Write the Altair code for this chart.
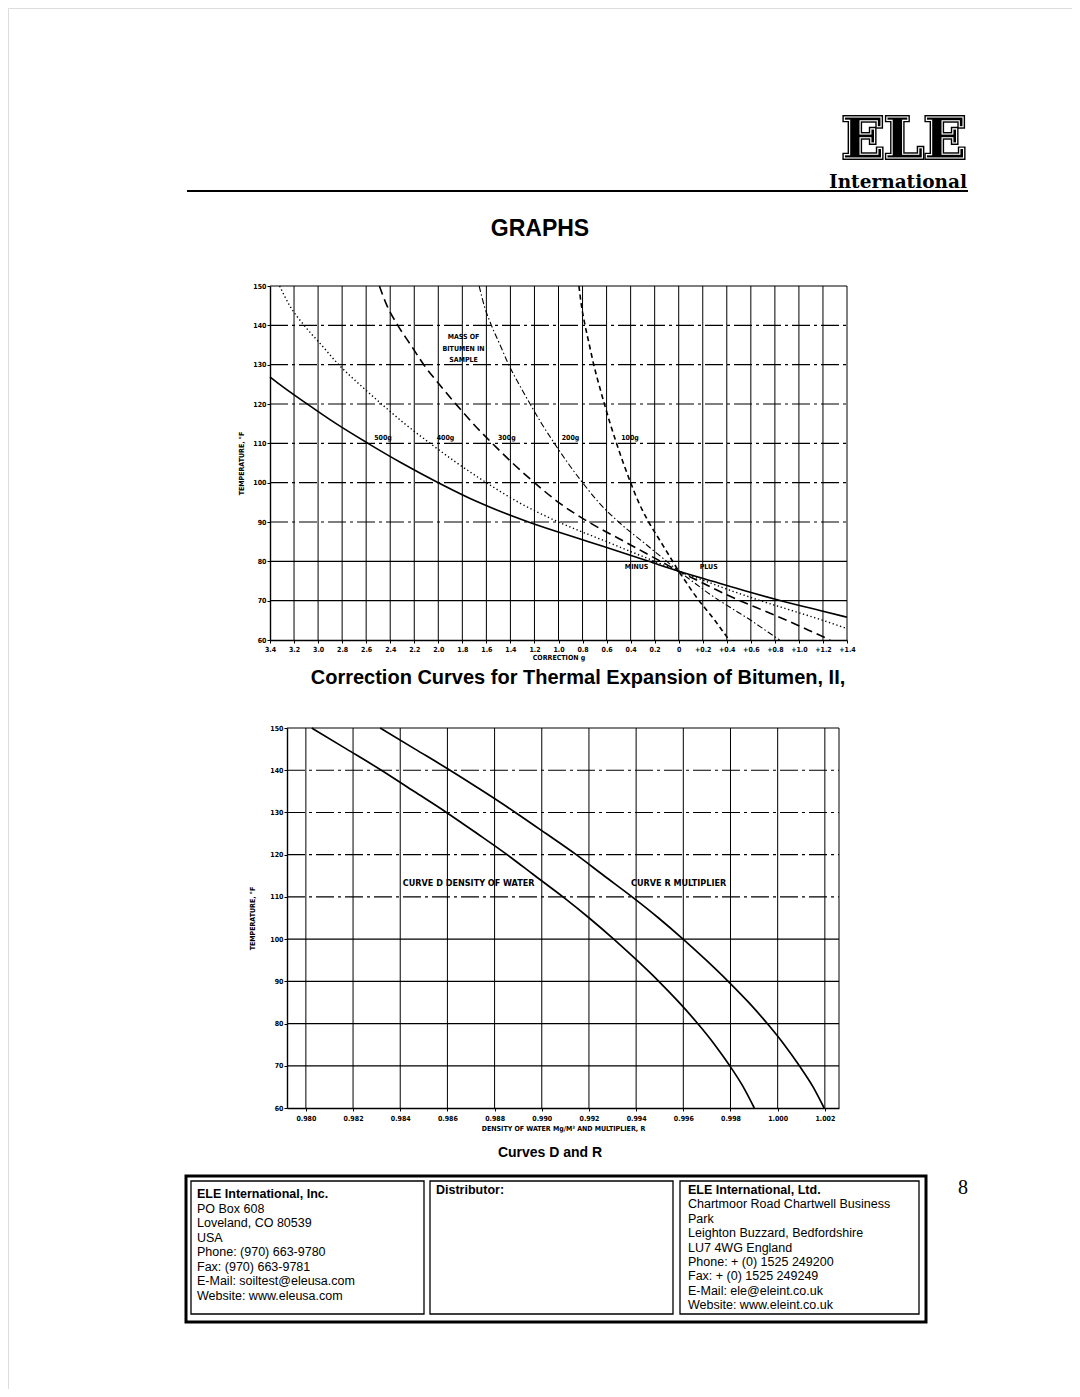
import altair as alt
import pandas as pd

# ---------------- data: Correction Curves (correction g vs temperature F) ----------------
temp_500 = [65.8, 67.5, 70, 72.5, 75, 77.5, 80, 85, 90, 95, 100, 105, 110, 115, 120, 125, 126.9]
corr_500 = [1.4, 1.175, 0.85, 0.55, 0.275, 0, -0.25, -0.75, -1.25, -1.665, -2.0, -2.305, -2.585, -2.85, -3.09, -3.32, -3.4]

temp_400 = [62.9, 65, 67.5, 70, 72.5, 75, 77.5, 80, 85, 90, 95, 100, 105, 110, 115, 120, 125, 130, 135, 140, 145, 150]
corr_400 = [1.4, 1.2, 0.94, 0.68, 0.44, 0.22, 0, -0.2, -0.6, -1.0, -1.332, -1.6, -1.844, -2.068, -2.28, -2.472, -2.656, -2.828, -2.972, -3.116, -3.236, -3.32]

temp_300 = [60, 62.5, 65, 67.5, 70, 72.5, 75, 77.5, 80, 85, 90, 95, 100, 105, 110, 115, 120, 125, 130, 135, 140, 145, 150]
corr_300 = [1.26, 1.08, 0.9, 0.705, 0.51, 0.33, 0.165, 0, -0.15, -0.45, -0.75, -1.0, -1.2, -1.383, -1.551, -1.71, -1.854, -1.992, -2.121, -2.229, -2.337, -2.427, -2.49]

temp_200 = [60, 62.5, 65, 67.5, 70, 72.5, 75, 77.5, 80, 85, 90, 95, 100, 105, 110, 115, 120, 125, 130, 135, 140, 145, 150]
corr_200 = [0.84, 0.72, 0.6, 0.47, 0.34, 0.22, 0.11, 0, -0.1, -0.3, -0.5, -0.666, -0.8, -0.922, -1.034, -1.14, -1.236, -1.328, -1.414, -1.486, -1.558, -1.618, -1.66]

temp_100 = [60, 62.5, 65, 67.5, 70, 72.5, 75, 77.5, 80, 85, 90, 95, 100, 105, 110, 115, 120, 125, 130, 135, 140, 145, 150]
corr_100 = [0.42, 0.36, 0.3, 0.235, 0.17, 0.11, 0.055, 0, -0.05, -0.15, -0.25, -0.333, -0.4, -0.461, -0.517, -0.57, -0.618, -0.664, -0.707, -0.743, -0.779, -0.809, -0.83]

top_ticks = [-3.4, -3.2, -3.0, -2.8, -2.6, -2.4, -2.2, -2.0, -1.8, -1.6, -1.4, -1.2, -1.0,
             -0.8, -0.6, -0.4, -0.2, 0, 0.2, 0.4, 0.6, 0.8, 1.0, 1.2, 1.4]
top_grid_x = [-3.2, -3.0, -2.8, -2.6, -2.4, -2.2, -2.0, -1.8, -1.6, -1.4, -1.2, -1.0,
              -0.8, -0.6, -0.4, -0.2, 0, 0.2, 0.4, 0.6, 0.8, 1.0, 1.2, 1.4]
temp_ticks = [60, 70, 80, 90, 100, 110, 120, 130, 140, 150]
top_grid_solid_y = [70, 80, 150]
top_grid_dash_y = [90, 100, 110, 120, 130, 140]

top_ann_text = ["MASS OF", "BITUMEN IN", "SAMPLE", "500g", "400g", "300g", "200g", "100g", "MINUS", "PLUS"]
top_ann_x = [-1.79, -1.79, -1.79, -2.46, -1.94, -1.43, -0.9, -0.405, -0.35, 0.25]
top_ann_y = [137.1, 134.0, 131.1, 111.4, 111.4, 111.4, 111.4, 111.4, 78.6, 78.6]

# ---------------- data: Curves D and R ----------------
temp_DR = [60, 65, 70, 75, 80, 85, 90, 95, 100, 105, 110, 115, 120, 125, 130, 135, 140, 145, 150]
curve_D = [0.99901, 0.99854, 0.99797, 0.99733, 0.99661, 0.99582, 0.99496, 0.99403, 0.99305, 0.99201,
           0.99090, 0.98971, 0.98853, 0.98726, 0.98596, 0.98458, 0.98320, 0.98173, 0.98025]
curve_R = [1.00197, 1.00150, 1.00092, 1.00028, 0.99956, 0.99877, 0.99790, 0.99697, 0.99599, 0.99495,
           0.99383, 0.99264, 0.99146, 0.99018, 0.98888, 0.98752, 0.98611, 0.98463, 0.98315]
dens_ticks = [0.980, 0.982, 0.984, 0.986, 0.988, 0.990, 0.992, 0.994, 0.996, 0.998, 1.000, 1.002]
dens_grid_x = [0.980, 0.982, 0.984, 0.986, 0.988, 0.990, 0.992, 0.994, 0.996, 0.998, 1.000, 1.002, 1.0026]
bot_grid_solid_y = [70, 80, 90, 100, 150]
bot_grid_dash_y = [110, 120, 130, 140]
bot_ann_text = ["CURVE D DENSITY OF WATER", "CURVE R  MULTIPLIER"]
bot_ann_x = [0.9869, 0.9958]
bot_ann_y = [113.3, 113.3]

footer_left = ["PO Box 608", "Loveland, CO  80539", "USA", "Phone: (970) 663-9780",
               "Fax: (970) 663-9781", "E-Mail: soiltest@eleusa.com", "Website: www.eleusa.com"]
footer_right = ["Chartmoor Road Chartwell Business", "Park", "Leighton Buzzard, Bedfordshire",
                "LU7 4WG England", "Phone: + (0) 1525 249200", "Fax: + (0) 1525 249249",
                "E-Mail: ele@eleint.co.uk", "Website: www.eleint.co.uk"]

# ---------------- layout ----------------
W, H = 1064, 1381
CF = "DejaVu Sans Condensed, DejaVu Sans"
SANS = "Liberation Sans, Arial"

X1 = alt.Scale(domain=[-3.4, 1.4], range=[262, 839], nice=False, zero=False)
Y1 = alt.Scale(domain=[60, 150], range=[632, 278], nice=False, zero=False)
X2 = alt.Scale(domain=[0.9792, 1.0026], range=[279, 831], nice=False, zero=False)
Y2 = alt.Scale(domain=[60, 150], range=[1100, 720], nice=False, zero=False)

one = pd.DataFrame({"a": [0]})
layers = []


def axis_style(**kw):
    base = dict(grid=False, domainColor="black", domainWidth=1.4, tickColor="black", tickSize=3,
                tickWidth=1, labelFont=CF, labelFontSize=7, labelFontWeight="bold", labelColor="black",
                labelFlush=False, labelOverlap=False, titleFont=CF, titleFontSize=7,
                titleFontWeight="bold", titleColor="black")
    base.update(kw)
    return alt.Axis(**base)


def grid_layers(xs, ys_solid, ys_dash, XS, YS, xdom, ydom):
    out = []
    out.append(alt.Chart(pd.DataFrame({"x": xs, "y0": ydom[0], "y1": ydom[1]})).mark_rule(
        color="black", strokeWidth=1).encode(
        x=alt.X("x:Q", scale=XS, axis=None), y=alt.Y("y0:Q", scale=YS, axis=None), y2="y1:Q"))
    out.append(alt.Chart(pd.DataFrame({"y": ys_solid, "x0": xdom[0], "x1": xdom[1]})).mark_rule(
        color="black", strokeWidth=1.2).encode(
        y=alt.Y("y:Q", scale=YS, axis=None), x=alt.X("x0:Q", scale=XS, axis=None), x2="x1:Q"))
    out.append(alt.Chart(pd.DataFrame({"y": ys_dash, "x0": xdom[0], "x1": xdom[1]})).mark_rule(
        color="black", strokeWidth=1.1, strokeDash=[18, 4, 3, 4]).encode(
        y=alt.Y("y:Q", scale=YS, axis=None), x=alt.X("x0:Q", scale=XS, axis=None), x2="x1:Q"))
    return out


# ----- top chart -----
layers += grid_layers(top_grid_x, top_grid_solid_y, top_grid_dash_y, X1, Y1, [-3.4, 1.4], [60, 150])

label_expr = ("datum.value < -0.01 ? format(-datum.value, '.1f') : "
              "(datum.value > 0.01 ? '+' + format(datum.value, '.1f') : '0')")
curve_specs = [
    (corr_500, temp_500, dict(strokeWidth=1.6)),
    (corr_400, temp_400, dict(strokeWidth=1.4, strokeDash=[1.3, 2.6])),
    (corr_300, temp_300, dict(strokeWidth=1.6, strokeDash=[9, 5])),
    (corr_200, temp_200, dict(strokeWidth=1.1, strokeDash=[6, 2.5, 1.5, 2.5])),
    (corr_100, temp_100, dict(strokeWidth=1.6, strokeDash=[5, 3.5])),
]
for i, (cx, cy, st) in enumerate(curve_specs):
    df = pd.DataFrame({"corr": cx, "temp": cy})
    if i == 0:
        xa = axis_style(orient="bottom", offset=-(H - 632), values=top_ticks, labelExpr=label_expr,
                        labelPadding=2, title="CORRECTION g", titlePadding=1)
        ya = axis_style(orient="left", offset=-262, values=temp_ticks, labelPadding=1,
                        title="TEMPERATURE, °F", titlePadding=8)
    else:
        xa = None
        ya = None
    layers.append(alt.Chart(df).mark_line(color="black", interpolate="monotone", **st).encode(
        x=alt.X("corr:Q", scale=X1, axis=xa), y=alt.Y("temp:Q", scale=Y1, axis=ya)))

layers.append(alt.Chart(pd.DataFrame({"t": top_ann_text, "x": top_ann_x, "y": top_ann_y})).mark_text(
    font=CF, fontSize=7, fontWeight="bold", color="black", align="center", baseline="middle").encode(
    x=alt.X("x:Q", scale=X1, axis=None), y=alt.Y("y:Q", scale=Y1, axis=None), text="t:N"))

# ----- bottom chart -----
layers += grid_layers(dens_grid_x, bot_grid_solid_y, bot_grid_dash_y, X2, Y2, [0.9792, 1.0026], [60, 150])
dr = pd.DataFrame({"D": curve_D, "R": curve_R, "temp": temp_DR})
layers.append(alt.Chart(dr).mark_line(color="black", strokeWidth=1.7, interpolate="monotone").encode(
    x=alt.X("D:Q", scale=X2, axis=axis_style(orient="bottom", offset=-(H - 1100), values=dens_ticks,
                                              format=".3f", labelPadding=3,
                                              title="DENSITY OF WATER  Mg/M³  AND MULTIPLIER, R",
                                              titlePadding=3)),
    y=alt.Y("temp:Q", scale=Y2, axis=axis_style(orient="left", offset=-279, values=temp_ticks,
                                                 labelPadding=1, title="TEMPERATURE, °F",
                                                 titlePadding=14))))
layers.append(alt.Chart(dr).mark_line(color="black", strokeWidth=1.7, interpolate="monotone").encode(
    x=alt.X("R:Q", scale=X2, axis=None), y=alt.Y("temp:Q", scale=Y2, axis=None)))
layers.append(alt.Chart(pd.DataFrame({"t": bot_ann_text, "x": bot_ann_x, "y": bot_ann_y})).mark_text(
    font=CF, fontSize=9, fontWeight="bold", color="black", align="center", baseline="middle").encode(
    x=alt.X("x:Q", scale=X2, axis=None), y=alt.Y("y:Q", scale=Y2, axis=None), text="t:N"))


# ----- page decorations (page px minus 8px margin) -----
def txt(s, x, y, size, weight="normal", font=SANS, align="left", **kw):
    return alt.Chart(one).mark_text(text=s, fontSize=size, fontWeight=weight, font=font, align=align,
                                    baseline="alphabetic", **kw).encode(
        x=alt.value(x - 8), y=alt.value(y - 8))


def box(x0, y0, x1, y1, sw):
    return alt.Chart(one).mark_rect(fillOpacity=0, stroke="black", strokeWidth=sw).encode(
        x=alt.value(x0 - 8), x2=alt.value(x1 - 8), y=alt.value(y0 - 8), y2=alt.value(y1 - 8))


# logo: heavy serif letters with a white inline
layers.append(txt("ELE", 904, 158, 56, "bold", "DejaVu Serif", "center",
                  color="black", stroke="black", strokeWidth=4))
layers.append(txt("ELE", 904, 158, 56, "bold", "DejaVu Serif", "center",
                  fillOpacity=0, stroke="white", strokeWidth=1.1))
layers.append(txt("International", 967, 188, 18.5, "bold", "DejaVu Serif", "right", color="black"))
layers.append(alt.Chart(one).mark_rule(color="black", strokeWidth=2).encode(
    x=alt.value(187 - 8), x2=alt.value(968 - 8), y=alt.value(191 - 8)))
layers.append(txt("GRAPHS", 540, 236, 23, "bold", SANS, "center", color="black"))
layers.append(txt("Correction Curves for Thermal Expansion of Bitumen, II,", 578, 684, 20, "bold", SANS,
                  "center", color="black"))
layers.append(txt("Curves D and R", 550, 1157, 14, "bold", SANS, "center", color="black"))
layers.append(txt("8", 963, 1194, 20, "normal", "Liberation Serif", "center", color="black"))

layers.append(box(186, 1176, 926, 1322, 3))
layers.append(box(191, 1181, 424, 1314, 1.3))
layers.append(box(430, 1181, 673, 1314, 1.3))
layers.append(box(680, 1181, 919, 1314, 1.3))

layers.append(txt("ELE International, Inc.", 197, 1198, 12.5, "bold", color="black"))
for i, s in enumerate(footer_left):
    layers.append(txt(s, 197, 1198 + 14.5 * (i + 1), 12.5, color="black"))
layers.append(txt("Distributor:", 436, 1194, 12.5, "bold", color="black"))
layers.append(txt("ELE International, Ltd.", 688, 1194, 12.5, "bold", color="black"))
for i, s in enumerate(footer_right):
    layers.append(txt(s, 688, 1194 + 14.4 * (i + 1), 12.5, color="black"))

chart = alt.layer(*layers).resolve_scale(x="independent", y="independent").properties(
    width=W, height=H, autosize=alt.AutoSizeParams(type="none"), padding=0
).configure_view(stroke="transparent", strokeWidth=0).configure(background="white")

chart.save("out.html", embed_options={"renderer": "svg", "actions": False})
